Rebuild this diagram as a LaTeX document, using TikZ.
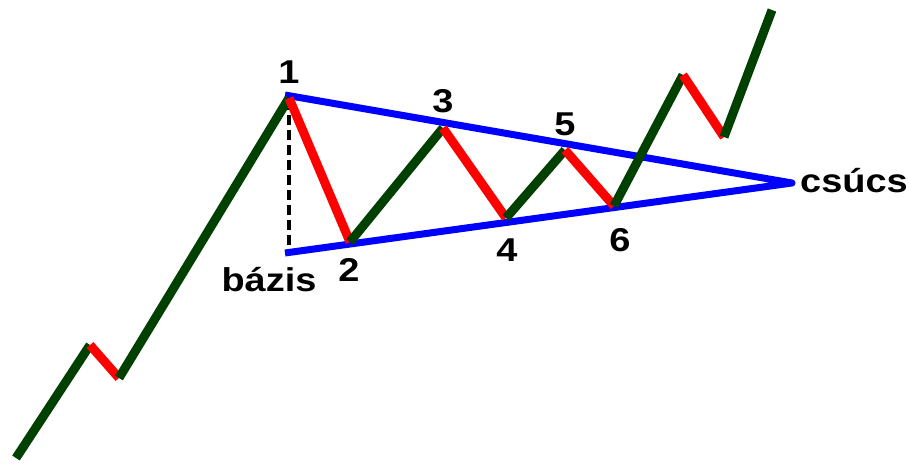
\documentclass[tikz,border=0pt]{standalone}
\usepackage{fontspec}
\setmainfont{Liberation Sans}
\definecolor{trendgreen}{RGB}{0,64,0}
\definecolor{lineblue}{RGB}{0,0,255}
\definecolor{linered}{RGB}{255,0,0}
\begin{document}
\begin{tikzpicture}[x=1pt, y=-1pt, line join=round,
  up/.style={draw=trendgreen, line width=9pt},
  down/.style={draw=linered, line width=9pt},
  side/.style={draw=lineblue, line width=7pt},
  lbl/.style={font=\fontsize{33}{38}\selectfont\bfseries, inner sep=0pt, xscale=1.15}]
  \useasboundingbox (0,0) rectangle (909,464);

  % ==== pontok ====
  \coordinate (s0) at (16,458);
  \coordinate (a1) at (90,345);
  \coordinate (a2) at (119,378);
  \coordinate (p1) at (289,98);
  \coordinate (p2) at (350,242);
  \coordinate (p3) at (443,128);
  \coordinate (p4) at (506,218);
  \coordinate (p5) at (565,150);
  \coordinate (p6) at (614,206);
  \coordinate (b1) at (683,75);
  \coordinate (b2) at (724,137);
  \coordinate (e0) at (772,10);
  \coordinate (top) at (285,95);
  \coordinate (base) at (285,253);
  \coordinate (apex) at (792,183);

  % ==== háromszög ====
  \draw[line width=3.5pt, dash pattern=on 10pt off 5pt] (289,100) -- (289,250);
  \draw[side] (top) -- (apex) -- (base);

  % ==== árfolyam ====
  \draw[up] (s0) -- (a1);
  \draw[down] (a1) -- (a2);
  \draw[up] (a2) -- (p1);
  \draw[down] (p1) -- (p2);
  \draw[up] (p2) -- (p3);
  \draw[down] (p3) -- (p4);
  \draw[up] (p4) -- (p5);
  \draw[down] (p5) -- (p6);
  \draw[up] (p6) -- (b1);
  \draw[down] (b1) -- (b2);
  \draw[up] (b2) -- (e0);

  % ==== címkék ====
  \node[lbl] (n1) at (289,72) {1};
  \node[lbl] (n2) at (349,270) {2};
  \node[lbl] (n3) at (443,101) {3};
  \node[lbl] (n4) at (507,250) {4};
  \node[lbl] (n5) at (565,124) {5};
  \node[lbl] (n6) at (620,240) {6};
  \node[lbl] (bazis) at (269,280) {bázis};
  \node[lbl, anchor=west] (csucs) at (800,181) {csúcs};
\end{tikzpicture}
\end{document}
